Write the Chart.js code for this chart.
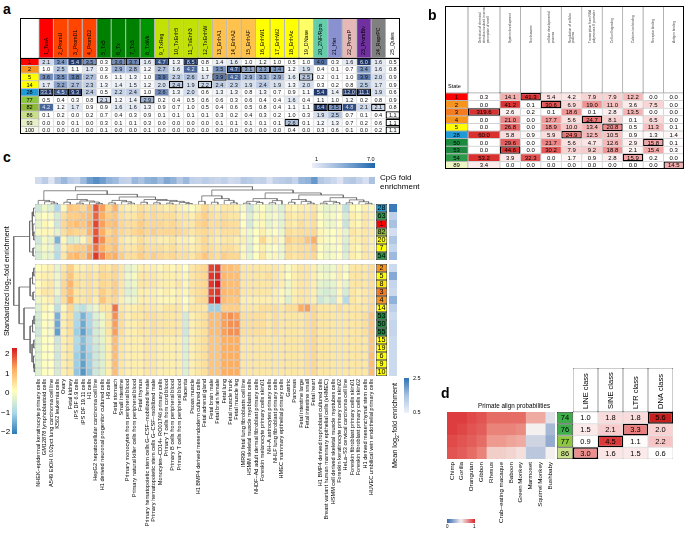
<!DOCTYPE html>
<html><head><meta charset="utf-8">
<script src="https://cdn.jsdelivr.net/npm/chart.js@4.4.1/dist/chart.umd.min.js"></script>
<style>
html,body{margin:0;padding:0;background:#fff;}
#root{position:relative;width:685px;height:558px;overflow:hidden;font-family:"Liberation Sans",Arial,sans-serif;color:#000;}
#root canvas{position:absolute;}
.t{position:absolute;white-space:nowrap;line-height:1;}
.box{position:absolute;border:1px solid #000;box-sizing:border-box;pointer-events:none;}
.bar{position:absolute;}
</style></head><body><div id="root"></div>
<script>
// ================= DATA =================
// ---- panel a ----
const aStates = ['1','2','5','14','28','77','82','86','93','100'];
const aMarks = ['1_TssA','2_PromU','3_PromD1','4_PromD2','5_Tx5','6_Tx','7_Tx3','8_TxWk','9_TxReg','10_TxEnh5','11_TxEnh3','12_TxEnhW','13_EnhA1','14_EnhA2','15_EnhAF','16_EnhW1','17_EnhW2','18_EnhAc','19_DNase','20_ZNF/Rpts','21_Het','22_PromP','23_PromBiv','24_ReprPC','25_Quies'];
const aValues = [
 [2.1,3.4,5.4,3.5,0.3,3.6,3.7,1.6,4.7,1.3,8.5,0.8,1.4,1.6,1.0,1.2,1.0,0.5,1.0,4.0,0.3,1.6,6.0,1.6,0.5],
 [1.0,2.5,1.1,1.7,0.3,2.9,2.8,1.2,2.7,1.6,4.2,1.1,3.5,4.7,3.1,3.3,3.4,1.2,1.9,0.4,0.1,0.7,3.4,1.6,0.8],
 [3.6,3.5,3.8,2.7,0.6,1.1,1.3,1.0,3.9,2.3,2.6,1.7,3.9,4.2,2.9,3.1,2.9,1.6,2.5,0.2,0.1,1.0,3.9,2.0,0.9],
 [1.7,3.2,2.7,2.3,1.3,1.4,1.5,1.2,2.0,2.4,1.9,2.2,2.4,2.3,1.9,2.4,1.9,1.3,2.0,0.3,0.2,0.8,2.5,1.7,0.9],
 [33.1,4.5,9.3,2.4,0.5,2.2,2.4,1.0,3.6,1.3,2.0,0.6,1.3,1.3,0.8,1.3,0.7,0.9,1.1,5.4,1.4,12.0,11.1,1.9,0.6],
 [0.5,0.4,0.3,0.8,2.1,1.2,1.4,2.9,0.2,0.4,0.5,0.6,0.6,0.3,0.6,0.4,0.4,1.6,0.4,1.1,1.0,1.2,0.2,0.8,0.9],
 [4.2,1.2,1.7,0.9,0.9,1.6,1.6,1.3,0.9,0.7,1.0,0.5,0.4,0.6,0.5,0.8,0.4,1.1,1.1,6.4,3.5,4.8,2.1,2.1,0.8],
 [0.1,0.2,0.0,0.2,0.7,0.4,0.3,0.9,0.1,0.1,0.1,0.1,0.3,0.2,0.4,0.3,0.2,1.0,0.3,1.9,2.5,0.7,0.1,0.4,1.1],
 [0.0,0.0,0.1,0.0,0.3,0.1,0.1,0.3,0.0,0.0,0.0,0.0,0.1,0.1,0.1,0.1,0.1,2.6,0.1,1.2,1.3,0.7,0.2,0.6,1.1],
 [0.0,0.0,0.0,0.0,0.1,0.0,0.0,0.1,0.0,0.0,0.0,0.0,0.0,0.0,0.0,0.0,0.0,0.4,0.0,0.3,0.6,0.1,0.0,0.2,1.1]
];
// ---- panel b ----
const bStates = ['1','2','3','4','5','28','50','53','54','89'];
const bTerms = ['Detection of chemical\nstimulus involved in sensory\nperception of smell','System development','Nucleosome','cellular developmental\nprocess','Regulation of cellular\nprocess','Transcription from RNA\npolymerase II promoter','Cell-cell signaling','Calcium ion binding','Receptor binding','Antigen binding'];
const bValues = [
 [0.3,14.1,41.3,5.4,4.2,7.9,7.9,12.2,0.0,0.0],
 [0.0,41.2,0.1,30.6,6.9,19.0,11.0,3.6,7.5,0.0],
 [319.6,2.6,0.2,0.1,18.6,0.1,2.8,13.5,0.0,0.0],
 [0.0,21.0,0.0,17.7,5.6,24.7,8.1,0.1,6.5,0.0],
 [0.0,26.8,0.0,18.9,10.0,13.4,20.8,0.5,11.3,0.1],
 [60.0,5.8,0.9,5.9,24.9,12.5,10.5,0.9,1.3,1.4],
 [0.0,29.6,0.0,21.7,5.6,4.7,12.6,2.9,15.8,0.1],
 [0.0,44.6,0.0,30.2,7.9,9.2,18.8,2.1,15.4,0.3],
 [53.2,3.9,32.3,0.0,1.7,0.9,2.8,15.9,0.2,0.0],
 [3.4,0.0,0.0,0.0,0.0,0.0,0.0,0.0,0.0,14.5]
];
// ---- panel c ----
const cTissues = ['NHEK–epidermal keratinocyte primary cells','GM12878 lymphoblastoid cells','A549 EtOH 0.02pct lung carcinoma cell line','K562 leukemia cells','Ovary','Fetal kidney','iPS DF 6.9 cells','iPS DF 19.11 cells','H1 cells','HepG2 hepatocellular carcinoma cell line','H1 derived neuronal progenitor cultured cells','H9 cells','Fetal stomach','Small intestine','Primary monocytes from peripheral blood','Primary natural killer cells from peripheral blood','Fetal thymus','Primary hematopoietic stem cells G–CSF–mobilized female','Primary hematopoietic stem cells G–CSF–mobilized male','Monocytes–CD14+ RO01746 primary cells','Primary T cells from cord blood','Primary B cells from peripheral blood','Primary T cells from peripheral blood','Placenta','Psoas muscle','H1 BMP4 derived mesendoderm cultured cells','Fetal adrenal gland','Fetal brain male','Fetal brain female','Fetal lung','Fetal muscle trunk','Fetal muscle leg','IMR90 fetal lung fibroblasts cell line','HSMM skeletal muscle myoblasts cells','NHDF–Ad adult dermal fibroblast primary cells','Foreskin melanocyte primary cells skin01','NH–A astrocytes primary cells','NHLF lung fibroblast primary cells','HMEC mammary epithelial primary cells','Gastric','Pancreas','Fetal intestine large','Fetal intestine small','Fetal heart','H1 BMP4 derived trophoblast cultured cells','Breast variant human mammary epithelial cells (vHMEC)','HSMM cell derived skeletal muscle myotubes cells','Foreskin keratinocyte primary cells skin02','HeLa–S3 cervical carcinoma cell line','Foreskin fibroblast primary cells skin01','Foreskin fibroblast primary cells skin02','H1 derived mesenchymal stem cells','HUVEC umbilical vein endothelial primary cells'];
const cStatesTop = ['28','63','1','82','20','7','54'];
const cStatesBottom = ['2','5','8','3','4','14','53','50','55','15','19','6','9','10'];
const cTop = [
 [-0.6,-0.2,-0.4,-1.0,0.1,0.7,0.6,0.5,0.8,1.6, 1.1,0.5,0.9,0.3,0.2,0.2,0.4,0.3,0.4,0.3, 0.2,0.3,0.2,0.1,0.0,0.2,0.5,0.3,0.2,0.3, 0.3,0.2,-0.1,-0.6,-0.2,0.0,-0.3,-0.2,-0.4,0.2, 0.1,0.2,0.2,0.3,-0.1,-0.3,-0.2,-0.1,-0.8,0.1, 0.0,0.2,0.1],
 [-0.2,0.0,-0.1,-0.5,0.4,0.6,0.6,0.7,0.8,1.5, 1.0,0.6,0.7,0.4,0.3,0.3,0.5,0.4,0.5,0.4, 0.4,0.4,0.3,0.3,0.2,0.4,0.6,0.4,0.3,0.4, 0.3,0.3,0.0,-0.4,-0.1,0.1,-0.2,-0.1,-0.3,0.3, 0.2,0.3,0.3,0.4,0.0,-0.2,-0.1,0.0,-0.5,0.2, 0.1,0.3,0.2],
 [-0.3,0.1,0.0,-0.6,0.5,0.7,0.8,0.7,1.0,1.7, 1.1,0.7,0.8,0.5,0.4,0.4,0.6,0.5,0.5,0.5, 0.4,0.5,0.4,0.3,0.3,0.5,0.6,0.4,0.4,0.5, 0.4,0.4,0.0,-0.5,-0.1,0.1,-0.3,-0.1,-0.3,0.3, 0.2,0.4,0.3,0.4,0.0,-0.2,-0.2,0.0,-0.7,0.2, 0.1,0.3,0.2],
 [-0.1,0.1,0.1,-0.3,0.4,0.6,0.5,0.5,0.9,1.6, 1.0,0.5,0.7,0.5,0.4,0.5,0.6,0.5,0.6,0.5, 0.5,0.5,0.5,0.4,0.3,0.4,0.5,0.4,0.3,0.4, 0.4,0.4,0.1,-0.2,0.0,0.2,-0.1,0.0,-0.2,0.4, 0.3,0.4,0.4,0.5,0.1,-0.1,0.0,0.1,-0.3,0.3, 0.2,0.3,0.3],
 [-0.6,-0.1,-0.3,-1.4,0.1,-0.5,-0.4,0.1,0.5,1.7, 1.2,0.6,0.7,0.3,0.2,0.2,0.4,0.3,0.3,0.2, 0.2,0.3,0.2,0.2,0.1,0.3,0.5,0.3,0.2,0.3, 0.3,0.2,0.2,-0.3,0.0,0.5,0.1,0.2,-0.1,0.6, 0.4,0.5,0.7,1.0,0.1,-0.1,0.0,0.1,-0.4,0.2, 0.2,0.3,0.2],
 [-0.4,-0.1,-0.2,-0.8,0.2,0.5,0.6,0.6,0.9,1.4, 1.0,0.6,0.8,0.4,0.3,0.3,0.5,0.4,0.4,0.4, 0.3,0.4,0.3,0.3,0.2,0.3,0.5,0.4,0.3,0.4, 0.4,0.3,0.1,-0.4,0.0,0.2,-0.1,0.0,-0.2,0.4, 0.3,0.4,0.4,0.6,0.0,-0.2,-0.1,0.0,-0.5,0.2, 0.1,0.3,0.2],
 [-0.5,-0.2,-0.3,-0.9,0.3,0.8,0.9,0.7,1.1,1.8, 1.3,0.9,1.0,0.6,0.4,0.4,0.6,0.5,0.6,0.5, 0.4,0.5,0.4,0.4,0.3,0.5,0.7,0.5,0.4,0.6, 0.5,0.5,0.1,-0.3,0.0,0.3,-0.1,0.1,-0.2,0.4, 0.3,0.4,0.4,0.5,0.0,-0.2,-0.1,0.0,-0.4,0.2, 0.1,0.3,0.3]
];
const cBottom = [
 [0.0,0.1,0.2,-0.3,0.3,0.6,0.2,0.2,0.3,0.2, 0.4,0.3,0.5,0.3,-0.3,-0.2,0.2,0.2,0.2,0.1, 0.2,0.1,0.2,0.0,0.3,0.4,0.5,1.7,1.8,0.8, 0.8,0.7,0.3,0.3,0.3,0.3,0.3,0.3,0.2,-0.1, 0.2,0.3,0.3,0.2,-0.2,-0.3,-0.2,0.2,-0.1,0.3, 0.3,0.3,0.4],
 [0.1,0.2,0.2,-0.2,0.4,0.7,0.3,0.3,0.4,0.3, 0.5,0.4,0.5,0.3,-0.2,-0.1,0.3,0.3,0.3,0.2, 0.2,0.2,0.2,0.1,0.3,0.4,0.5,1.8,1.9,0.9, 0.8,0.8,0.3,0.3,0.3,0.3,0.4,0.3,0.2,0.0, 0.2,0.3,0.3,0.2,-0.1,-0.2,-0.1,0.2,0.0,0.3, 0.3,0.3,0.4],
 [0.0,0.2,0.3,-0.2,0.5,0.9,0.4,0.3,0.4,0.3, 0.5,0.4,0.6,0.3,-0.3,-0.2,0.3,0.3,0.3,0.2, 0.2,0.2,0.3,0.1,0.3,0.4,0.5,1.8,2.0,0.9, 0.8,0.8,0.3,0.3,0.3,0.3,0.3,0.3,0.2,-0.2, 0.2,0.3,0.3,0.2,-0.3,-0.4,-0.3,0.1,-0.3,0.3, 0.3,0.3,0.4],
 [0.1,0.3,0.3,-0.2,0.5,0.8,0.3,0.3,0.4,0.3, 0.6,0.4,0.6,0.3,-0.4,-0.3,0.2,0.2,0.2,0.1, 0.2,0.1,0.2,0.1,0.3,0.4,0.5,1.7,1.8,0.9, 0.8,0.8,0.3,0.3,0.3,0.3,0.3,0.2,0.1,-0.2, 0.2,0.3,0.3,0.2,-0.4,-0.5,-0.4,0.1,-0.5,0.3, 0.2,0.3,0.4],
 [-0.2,0.1,0.2,-0.5,0.4,1.0,0.3,0.3,0.4,0.2, 0.7,0.4,0.5,0.2,-0.2,-0.2,0.2,0.2,0.2,0.1, 0.1,0.1,0.2,0.0,0.2,0.4,0.5,1.8,2.0,0.8, 0.7,0.7,0.2,0.2,0.2,0.2,0.2,0.2,0.1,-0.4, 0.2,0.3,0.3,0.2,-0.6,-0.4,-0.6,0.1,-0.9,0.3, 0.2,0.3,0.4],
 [-0.4,0.1,0.0,-0.8,0.1,0.5,-0.6,-0.8,-0.4,-0.2, 0.3,0.3,1.4,0.3,0.2,0.2,0.3,0.3,0.3,0.2, 0.3,0.3,0.3,0.1,0.3,0.3,0.3,-1.1,-1.1,0.6, 0.6,0.6,0.3,0.3,0.3,0.4,0.4,0.4,0.3,0.4, 0.4,1.0,1.1,0.5,0.3,0.3,0.3,0.4,0.3,0.3, 0.3,0.3,0.5],
 [-0.5,0.0,0.0,-1.4,0.2,0.4,-0.9,-1.4,-1.0,-0.4, -0.2,0.3,1.2,0.4,0.2,0.3,0.3,0.4,0.4,0.3, 0.3,0.3,0.3,-0.5,0.2,0.3,0.4,0.8,0.8,1.1, 1.2,1.1,0.4,0.4,0.4,0.4,0.3,0.4,0.3,0.3, 0.3,0.3,0.4,0.5,0.3,0.3,0.3,0.3,0.3,0.3, 0.3,0.4,0.7],
 [-0.5,0.0,-0.1,-1.5,0.2,0.4,-1.0,-1.5,-1.0,-0.5, -0.2,0.3,1.1,0.4,0.2,0.2,0.3,0.3,0.4,0.3, 0.3,0.3,0.3,-0.5,0.2,0.3,0.4,0.8,0.8,1.1, 1.2,1.2,0.4,0.4,0.4,0.4,0.3,0.4,0.3,0.3, 0.3,0.3,0.4,0.5,0.3,0.3,0.3,0.3,0.3,0.3, 0.3,0.4,0.7],
 [-0.6,0.0,-0.1,-1.6,0.2,0.4,-1.1,-1.6,-1.1,-0.5, -0.3,0.3,1.1,0.4,0.2,0.2,0.3,0.3,0.4,0.3, 0.3,0.3,0.3,-0.6,0.2,0.3,0.4,0.8,0.8,1.1, 1.2,1.2,0.4,0.4,0.4,0.4,0.3,0.4,0.3,0.3, 0.3,0.3,0.4,0.5,0.3,0.3,0.3,0.3,0.3,0.3, 0.3,0.4,0.7],
 [-0.4,0.0,0.0,-0.6,0.2,0.3,-0.9,-1.3,-0.9,-0.5, -0.3,0.2,0.8,0.3,0.2,0.2,0.2,0.3,0.3,0.2, 0.2,0.2,0.2,-0.4,0.2,0.3,0.4,0.7,0.7,1.0, 1.0,1.0,0.3,0.3,0.3,0.3,0.3,0.3,0.3,0.3, 0.3,0.3,0.4,0.5,0.3,0.3,0.3,0.3,0.3,0.3, 0.3,0.3,0.7],
 [-0.4,0.0,0.0,-0.5,0.2,0.3,-1.0,-1.4,-1.0,-0.6, -0.4,0.2,0.8,0.3,0.2,0.2,0.2,0.3,0.3,0.2, 0.2,0.2,0.2,-0.4,0.2,0.3,0.4,0.7,0.7,1.0, 1.0,1.0,0.3,0.3,0.3,0.3,0.3,0.3,0.3,0.3, 0.3,0.3,0.4,0.5,0.3,0.3,0.3,0.3,0.3,0.3, 0.3,0.3,0.7],
 [-0.4,0.0,0.0,-0.6,0.2,0.3,-1.1,-1.5,-1.1,-0.6, -0.4,0.2,0.8,0.3,0.2,0.2,0.2,0.3,0.3,0.2, 0.2,0.2,0.2,-0.4,0.2,0.3,0.4,0.7,0.7,1.0, 1.0,1.0,0.3,0.3,0.3,0.3,0.3,0.3,0.3,0.3, 0.3,0.3,0.4,0.5,0.3,0.3,0.3,0.3,0.3,0.3, 0.3,0.3,0.8],
 [-0.4,0.0,0.0,-0.5,0.2,0.3,-1.1,-1.6,-1.1,-0.6, -0.4,0.2,0.8,0.3,0.2,0.2,0.2,0.3,0.3,0.2, 0.2,0.2,0.2,-0.4,0.2,0.3,0.4,0.7,0.7,1.0, 1.0,1.0,0.3,0.3,0.3,0.3,0.3,0.3,0.3,0.3, 0.3,0.3,0.4,0.5,0.3,0.3,0.3,0.3,0.3,0.3, 0.3,0.3,0.8],
 [-0.4,0.0,0.0,-0.5,0.2,0.3,-1.2,-1.7,-1.2,-0.6, -0.4,0.2,0.8,0.3,0.2,0.2,0.2,0.3,0.3,0.2, 0.2,0.2,0.2,-0.4,0.2,0.3,0.4,0.7,0.7,1.0, 1.0,1.0,0.3,0.3,0.3,0.3,0.3,0.3,0.3,0.3, 0.3,0.3,0.4,0.5,0.3,0.3,0.3,0.3,0.3,0.3, 0.3,0.3,0.8]
];
const cCpG = [2.0,2.8,1.5,3.0,3.6,2.8,2.4,3.5,4.6,5.2, 4.6,3.8,3.5,2.6,2.4,3.6,3.2,3.8,4.0,3.4, 4.2,3.8,3.0,3.6,2.6,2.4,2.8,2.5,2.3,2.6, 2.0,2.2,3.0,2.8,2.4,2.6,1.8,2.6,2.8,3.0, 2.4,3.6,3.8,4.8,3.0,2.6,2.2,1.6,2.8,3.0, 2.4,1.8,3.2];
const cMeanTop = [2.4,1.2,1.5,0.9,1.4,1.1,1.6];
const cMeanBottom = [1.0,1.8,1.1,1.0,1.7,1.2,1.0,1.1,1.1,1.0,1.0,1.0,1.0,1.0];
// dendrograms: [height, left, right]; leaves = display index
const cColTree = [10,
  [7.8, [2.5,0,[1.8,1,[1.0,2,3]]],
        [5.8, [3.0,[1.5,4,5],[2.2,[1.0,6,7],[1.6,8,[0.8,9,10]]]],
              [4.4,[2.5,[1.2,11,12],[1.8,13,[1.0,14,15]]],
                   [3.0,[1.5,16,17],[2.5,[1.2,18,19],[2.0,[1.0,20,21],[1.4,22,[0.8,23,24]]]]]]]],
  [8.2, [5.0,[2.0,25,26],[3.5,[1.5,27,28],[2.5,29,[1.2,30,31]]]],
        [6.6,[3.5,[2.0,[1.0,32,33],[1.4,34,35]],[2.4,[1.2,36,37],38]],
             [5.5,[3.0,[1.5,39,40],[2.0,41,[1.0,42,43]]],[4.0,[2.0,[1.0,44,45],[1.3,46,47]],[2.8,[1.2,48,49],[1.8,50,[0.9,51,52]]]]]]]];
const cRowTree = [8.7,
  [2.2,[1.2,[0.6,0,1],[0.9,2,[0.5,3,4]]],[0.8,5,6]],
  [6.5,[2.0,[1.0,[0.5,7,8],9],[0.8,10,11]],
       [4.5,12,[2.0,[1.0,[0.4,13,14],15],[1.2,[0.5,16,17],[0.6,18,[0.3,19,20]]]]]]];
// ---- panel d ----
const dSpecies = ['Chimp','Gorilla','Orangutan','Gibbon','Rhesus','Crab–eating macaque','Baboon','Green Monkey','Marmoset','Squirrel Monkey','Bushbaby'];
const dStates = ['74','76','77','86'];
const dProb = [
 [0.95,0.95,0.92,0.90,0.85,0.85,0.85,0.85,0.70,0.70,0.45],
 [0.95,0.93,0.90,0.88,0.80,0.80,0.80,0.78,0.50,0.50,0.30],
 [0.92,0.90,0.88,0.85,0.75,0.75,0.72,0.70,0.40,0.40,0.25],
 [0.90,0.88,0.85,0.80,0.60,0.60,0.58,0.55,0.35,0.35,0.50]
];
const dClasses = ['LINE class','SINE class','LTR class','DNA class'];
const dEnrich = [
 [1.0,1.8,1.8,5.6],
 [1.5,2.1,3.3,2.0],
 [0.9,4.5,1.1,2.2],
 [3.0,1.6,1.5,0.6]
];

// ================= STYLE =================
const FONT = '"Liberation Sans", Arial, Helvetica, sans-serif';
const markColors = ['#FF0000','#FF4500','#FF4500','#FF4500','#008000','#008000','#008000','#009600','#C2E105','#C2E105','#C2E105','#C2E105','#FFC34D','#FFC34D','#FFC34D','#FFFF00','#FFFF00','#FFFF00','#FFFF66','#66CDAA','#8A91D0','#E6B8B7','#7030A0','#808080','#FFFFFF'];
const stateColors = {'1':'#FF0000','2':'#F7941D','3':'#F47B20','4':'#F7941D','5':'#FFFF00','6':'#FFFF00','7':'#FFFF00','8':'#FFE600','9':'#FFFF00','10':'#FFFF00','14':'#FFFF00','15':'#FFFF00','19':'#FFFF00','20':'#FFFF00','28':'#1E9BD7','50':'#1B8A3E','53':'#1B8A3E','54':'#2A9A48','55':'#1B8A3E','63':'#2A9A48','74':'#3DAE49','76':'#3DAE49','77':'#8DC63F','82':'#8DB83A','86':'#C9DF8A','89':'#EEF5C4','93':'#E6EFC8','100':'#F6F8EC'};

function hex2rgb(h){h=h.replace('#','');return [0,2,4].map(i=>parseInt(h.slice(i,i+2),16));}
function ramp(stops){
  const s=stops.map(([t,c])=>[t,hex2rgb(c)]);
  return v=>{
    let c;
    if(v<=s[0][0]) c=s[0][1];
    else if(v>=s[s.length-1][0]) c=s[s.length-1][1];
    else for(let i=1;i<s.length;i++){ if(v<=s[i][0]){const f=(v-s[i-1][0])/(s[i][0]-s[i-1][0]); c=s[i-1][1].map((a,k)=>Math.round(a+(s[i][1][k]-a)*f)); break;} }
    return 'rgb('+c.join(',')+')';
  };
}
const aColor = ramp([[1,'#ffffff'],[2.2,'#c9d6ea'],[3.4,'#7e98c4'],[4.4,'#3b5a92'],[5.5,'#1f3667']]);
const bColor = ramp([[0,'#ffffff'],[5,'#fbe3e3'],[15,'#f4aaaa'],[28,'#e86060'],[42,'#d93030']]);
const cColor = ramp([[-2,'#2c7bb6'],[-1,'#abd9e9'],[0,'#ffffbf'],[1,'#fdae61'],[2,'#d7191c']]);
const cpgColor = ramp([[1,'#eeeef8'],[3,'#b4c8e4'],[5,'#5d93c8'],[7,'#1f66ad']]);
const meanColor = ramp([[0.5,'#eef2fa'],[1.5,'#a9c2e2'],[2.5,'#2f72b5']]);
const dColor = ramp([[0,'#3566b0'],[0.5,'#f4f0ef'],[0.75,'#ee9a8e'],[1,'#d9262a']]);
const dtColor = ramp([[1,'#ffffff'],[2,'#f9d3d3'],[3,'#ee8f8f'],[4.5,'#dc3a3a'],[5.6,'#c81e1e']]);

// ================= HELPERS =================
const root=document.getElementById('root');
function text(str,x,y,size,opts={}){
  const d=document.createElement('div'); d.className='t'; d.textContent=str;
  d.style.left=x+'px'; d.style.top=y+'px'; d.style.fontSize=size+'px';
  if(opts.bold) d.style.fontWeight='bold';
  if(opts.rot){ d.style.transformOrigin='0 0'; d.style.transform='rotate(-90deg)'; }
  if(opts.lh) {d.style.lineHeight=opts.lh+'px'; d.style.whiteSpace='pre';}
  root.appendChild(d); return d;
}
function box(x,y,w,h,bw){const d=document.createElement('div');d.className='box';Object.assign(d.style,{left:x+'px',top:y+'px',width:w+'px',height:h+'px',borderWidth:(bw||1)+'px'});root.appendChild(d);}
function gbar(x,y,w,h,grad){const d=document.createElement('div');d.className='bar';Object.assign(d.style,{left:x+'px',top:y+'px',width:w+'px',height:h+'px',background:grad});root.appendChild(d);}
function mkCanvas(x,y,w,h){const cv=document.createElement('canvas');cv.width=w;cv.height=h;Object.assign(cv.style,{left:x+'px',top:y+'px',width:w+'px',height:h+'px'});root.appendChild(cv);return cv;}

const cellTextPlugin={
  id:'cellText',
  afterDatasetsDraw(chart){
    const ctx=chart.ctx;
    chart.data.datasets.forEach((ds,di)=>{
      if(!ds.cellText) return;
      const meta=chart.getDatasetMeta(di);
      meta.data.forEach((el,k)=>{
        const txt=ds.cellText[k];
        if(txt===null||txt===undefined||txt==='') return;
        const p=el.getProps(['x','y','base','height'],true);
        const cx=(p.x+p.base)/2, cy=p.y, bot=p.y+p.height/2;
        ctx.save();
        ctx.fillStyle=ds.textColor[k]||'#000';
        ctx.font=ds.textFont;
        const lines=String(txt).split('\n');
        if(ds.textRotate){
          ctx.translate(cx,bot-ds.textPad); ctx.rotate(-Math.PI/2);
          ctx.textAlign='left'; ctx.textBaseline='middle';
          lines.forEach((ln,m)=>ctx.fillText(ln,0,(m-(lines.length-1)/2)*ds.lineHeight));
        } else {
          ctx.textAlign='center'; ctx.textBaseline='middle';
          ctx.fillText(lines[0],cx,cy+0.5);
        }
        ctx.restore();
      });
    });
  }
};

function grid(o){
  const cv=mkCanvas(o.x,o.y,o.w,o.h);
  const edges=[0]; o.colW.forEach(w=>edges.push(edges[edges.length-1]+w));
  const datasets=o.colW.map((w,j)=>{
    const cells=o.rows.map((r,i)=>o.cell(i,j)||{});
    return {
      data:o.rows.map(()=>[edges[j],edges[j+1]]),
      backgroundColor:cells.map(c=>c.bg||'rgba(0,0,0,0)'),
      borderColor:cells.map(c=>c.bc||'#a0a0a0'),
      borderWidth:cells.map(c=>c.bw===undefined?0:c.bw),
      borderSkipped:false,
      cellText:cells.map(c=>c.text),
      textColor:cells.map(c=>c.tc||'#000'),
      textFont:o.font||('6px '+FONT), textRotate:!!o.rotate, textPad:o.pad||2, lineHeight:o.lh||6,
      barPercentage:1, categoryPercentage:1, grouped:false, inflateAmount:o.inflate===undefined?0:o.inflate
    };
  });
  return new Chart(cv,{type:'bar',data:{labels:o.rows,datasets},
    options:{indexAxis:'y',responsive:false,animation:false,devicePixelRatio:1,events:[],layout:{padding:o.padding||0},
      plugins:{legend:{display:false},tooltip:{enabled:false}},
      scales:{x:{type:'linear',display:false,min:0,max:edges[edges.length-1]},y:{type:'category',display:false}}},
    plugins:[cellTextPlugin].concat(o.plugins||[])});
}
function rotLabels(labels,colw,font,gap){
  return {id:'rotLabels',afterDraw(chart){
    const ctx=chart.ctx, xs=chart.scales.x, y0=chart.chartArea.bottom+gap;
    ctx.save(); ctx.font=font; ctx.fillStyle='#000'; ctx.textAlign='right'; ctx.textBaseline='middle';
    labels.forEach((lab,i)=>{const cx=xs.getPixelForValue((i+0.5)*colw); ctx.save(); ctx.translate(cx,y0); ctx.rotate(-Math.PI/2); ctx.fillText(lab,0,0); ctx.restore();});
    ctx.restore();
  }};
}
function colMax(M,j){return Math.max(...M.map(r=>r[j]));}
function dendro(o){
  const segs=[];
  function walk(n){ if(typeof n==='number') return {p:o.leafPos(n),h:0};
    const L=walk(n[1]),R=walk(n[2]); segs.push([[L.p,L.h],[L.p,n[0]],[R.p,n[0]],[R.p,R.h]]); return {p:(L.p+R.p)/2,h:n[0]}; }
  walk(o.tree);
  const cv=mkCanvas(o.x,o.y,o.w,o.h);
  const datasets=segs.map(s=>({data:s.map(([p,h])=>o.horizontal?{x:h,y:p}:{x:p,y:h}),showLine:true,borderColor:'#6a6a6a',borderWidth:0.8,pointRadius:0,tension:0,fill:false}));
  const lin=(min,max,rev)=>({type:'linear',display:false,min,max,reverse:!!rev});
  new Chart(cv,{type:'scatter',data:{datasets},options:{responsive:false,animation:false,devicePixelRatio:1,events:[],layout:{padding:0},
    plugins:{legend:{display:false},tooltip:{enabled:false}},
    scales:o.horizontal?{x:lin(0,o.hmax,true),y:lin(0,o.pmax,true)}:{x:lin(0,o.pmax),y:lin(0,o.hmax)}},});
}

// ================= PANEL A =================
text('a',3,2,14,{bold:true});
const aColW=[19].concat(aMarks.map(()=>361/25));
grid({x:20,y:18,w:380,h:40,colW:aColW,rows:['h'],font:'5.3px '+FONT,rotate:true,pad:3,lh:6,
  cell:(i,j)=>j===0?{bg:'#fff',bw:0.5}:{bg:markColors[j-1],bw:0.5,bc:'#555',text:aMarks[j-1]}});
grid({x:20,y:58,w:380,h:76,colW:aColW,rows:aStates,font:'5.6px '+FONT,
  cell:(i,j)=>{
    if(j===0) return {bg:stateColors[aStates[i]],bw:0.5,bc:'#777',text:aStates[i]};
    const v=aValues[i][j-1], isMax=v===colMax(aValues,j-1);
    return {bg:aColor(v),bw:isMax?1.3:0.5,bc:isMax?'#000':'#b5b5b5',text:v.toFixed(1),tc:v>=4.2?'#dde3ee':'#111'};
  }});
box(20,18,380,116,1.2); box(20,57.5,380,76.5,1);

// ================= PANEL B =================
text('b',428,8,14,{bold:true});
const bColW=[23,32].concat(bTerms.slice(1).map(()=>184/9));
grid({x:445,y:6,w:239,h:87,colW:bColW,rows:['h'],font:'3.2px '+FONT,rotate:true,pad:50,lh:3.8,
  cell:(i,j)=>j===0?{bg:'#fff',bw:0.5,bc:'#444'}:{bg:'#fff',bw:0.5,bc:'#444',text:bTerms[j-1],tc:'#333'}});
text('State',448,84,5.5);
grid({x:445,y:93,w:239,h:76,colW:bColW,rows:bStates,font:'6px '+FONT,
  cell:(i,j)=>{
    if(j===0) return {bg:stateColors[bStates[i]],bw:0.5,bc:'#555',text:bStates[i]};
    const v=bValues[i][j-1], isMax=v===colMax(bValues,j-1);
    return {bg:bColor(v),bw:isMax?1.3:0.5,bc:isMax?'#000':'#9a9a9a',text:v.toFixed(1)};
  }});
box(445,6,239,163,1);

// ================= PANEL C =================
text('c',3,150,14,{bold:true});
const CW=340/53;
grid({x:35,y:177,w:340,h:7,colW:cCpG.map(()=>CW),rows:['cpg'],inflate:'auto',cell:(i,j)=>({bg:cpgColor(cCpG[j])})});
gbar(312,163,63,5,'linear-gradient(to right,'+cpgColor(1)+','+cpgColor(4)+','+cpgColor(7)+')');
text('1',315,156.5,5.5); text('7.0',367,156.5,5.5);
text('CpG fold\nenrichment',380,173,8,{lh:9});
dendro({tree:cColTree,x:35,y:186,w:340,h:19,pmax:53,hmax:10.4,leafPos:i=>i+0.5});
const cColW=cTissues.map(()=>CW).concat([1.3,11,2,8]);
function cCell(M,states,means){
  return (i,j)=>{
    if(j<53) return {bg:cColor(M[i][j]),bw:0.5,bc:'#9c9c9c'};
    if(j===54) return {bg:stateColors[states[i]],bw:0.7,bc:'#333',text:states[i]};
    if(j===56) return {bg:meanColor(means[i])};
    return {};
  };
}
grid({x:35,y:204,w:362.3,h:56,colW:cColW,rows:cStatesTop,font:'7.2px '+FONT,cell:cCell(cTop,cStatesTop,cMeanTop)});
grid({x:35,y:264,w:362.3,h:294,colW:cColW,rows:cStatesBottom,font:'7.2px '+FONT,padding:{bottom:182},
  cell:cCell(cBottom,cStatesBottom,cMeanBottom),plugins:[rotLabels(cTissues,CW,'5.6px '+FONT,3)]});
dendro({tree:cRowTree,x:13,y:204,w:22,h:172,horizontal:true,pmax:21.5,hmax:9,leafPos:i=>i<7?i+0.5:i+1});
gbar(12,348,5,86,'linear-gradient(to bottom,#d7191c,#fdae61,#ffffbf,#abd9e9,#2c7bb6)');
text('2',5,350,8); text('1',5,369.5,8); text('0',5,389,8); text('−1',1,408.5,8); text('−2',1,428,8);
const yl=text('Standardized log',3,336,7.3,{rot:true}); yl.innerHTML='Standardized log<sub style="font-size:5px">2</sub>-fold enrichment';
gbar(404,378,5,35,'linear-gradient(to bottom,'+meanColor(2.5)+','+meanColor(1.5)+','+meanColor(0.5)+')');
text('2.5',413,376,5.5); text('0.5',413,410,5.5);
const ml=text('Mean',391,468,7.3,{rot:true}); ml.innerHTML='Mean log<sub style="font-size:5px">2</sub>-fold enrichment';

// ================= PANEL D =================
text('d',441,386,14,{bold:true});
text('Primate align probabilities',478,403,6.3);
const DW=108/11;
grid({x:447,y:412,w:108,h:140,colW:dSpecies.map(()=>DW),rows:dStates,inflate:'auto',padding:{bottom:93},
  cell:(i,j)=>({bg:dColor(dProb[i][j])}),plugins:[rotLabels(dSpecies,DW,'6.2px '+FONT,3)]});
grid({x:557,y:412,w:116,h:47,colW:[16].concat(dClasses.map(()=>25)),rows:dStates,font:'7.5px '+FONT,
  cell:(i,j)=>{
    if(j===0) return {bg:stateColors[dStates[i]],bw:0.7,bc:'#333',text:dStates[i]};
    const v=dEnrich[i][j-1], isMax=v===colMax(dEnrich,j-1);
    return {bg:dtColor(v),bw:isMax?1.4:0.5,bc:isMax?'#000':'#bbb',text:v.toFixed(1)};
  }});
grid({x:573,y:368,w:100,h:44,colW:dClasses.map(()=>25),rows:['h'],font:'7.5px '+FONT,rotate:true,pad:3,lh:8,
  cell:(i,j)=>({bg:'#fff',bw:0.5,bc:'#333',text:dClasses[j]})});
gbar(447,519,28,4,'linear-gradient(to right,'+dColor(0)+','+dColor(0.5)+','+dColor(1)+')');
text('0',446,525,4.5); text('1',473,525,4.5);
</script></body></html>
